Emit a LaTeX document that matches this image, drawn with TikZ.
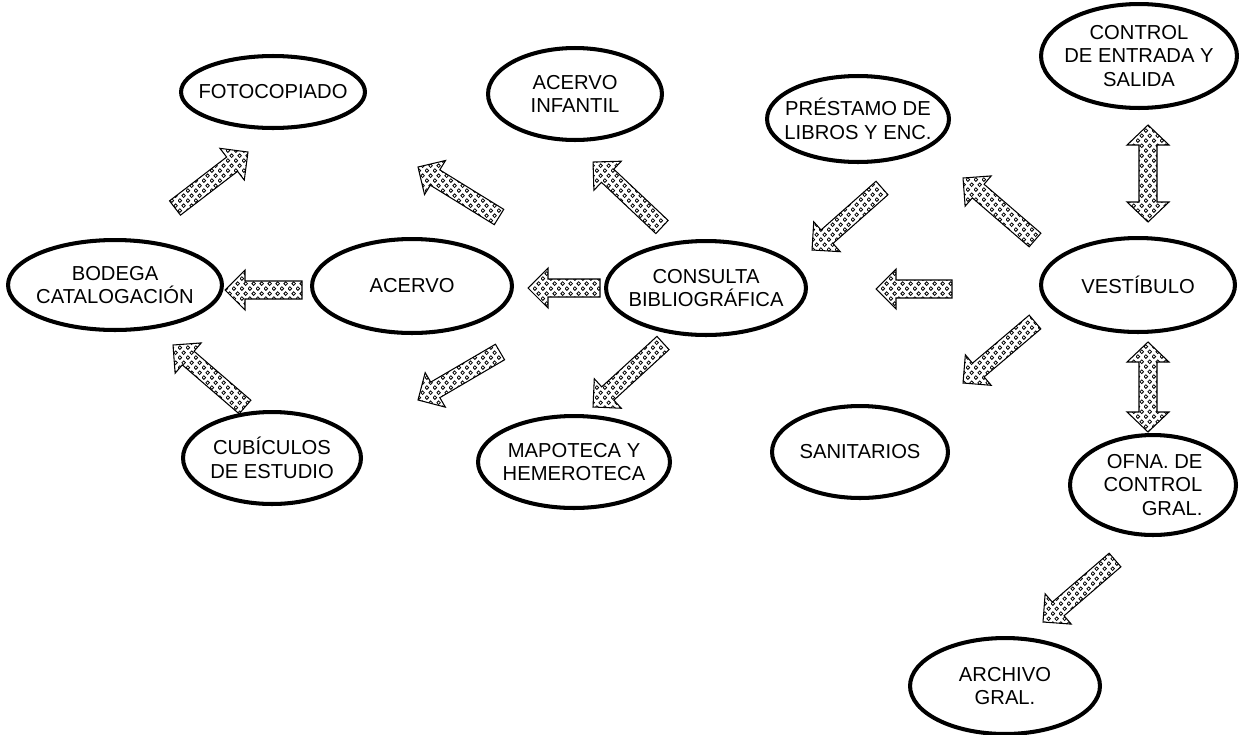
\documentclass[tikz,border=0pt]{standalone}
\usepackage{fontspec}
\setmainfont{Liberation Sans}
\usetikzlibrary{shapes.geometric,patterns}

% relleno de anillos para las flechas
\pgfdeclarepatternformonly{anillos}{\pgfpointorigin}{\pgfpoint{4.4pt}{5.6pt}}{\pgfpoint{4.4pt}{5.6pt}}{%
  \pgfsetlinewidth{0.45pt}%
  \pgfpathcircle{\pgfpoint{1.1pt}{1.4pt}}{1.05pt}%
  \pgfpathcircle{\pgfpoint{3.3pt}{4.2pt}}{1.05pt}%
  \pgfusepath{stroke}}

\tikzset{
  elipse/.style={ellipse, draw, line width=2.3pt, inner xsep=-2cm, inner ysep=-1cm, align=center,
    font=\fontsize{11.5}{13.5}\selectfont},
  tam/.style 2 args={minimum width=#1*0.04cm, minimum height=#2*0.04cm},
  flecha/.style={draw, line width=0.6pt, pattern=anillos}
}

\begin{document}
\begin{tikzpicture}[x=0.02cm, y=-0.02cm]
		\useasboundingbox (0,0) rectangle (1239,734);
		% fila superior
		\node[elipse, tam={92}{36}] (fotocopiado) at (273,92) {FOTOCOPIADO};
		\node[elipse, tam={87}{46}] (infantil) at (575,94) {ACERVO\\INFANTIL};
		\node[elipse, tam={91}{43}] (prestamo) at (858,119) {PRÉSTAMO DE\\LIBROS Y ENC.};
		\node[elipse, tam={98}{52}] (control) at (1139,56) {CONTROL\\DE ENTRADA Y\\SALIDA};
		% fila central
		\node[elipse, tam={107}{45}] (bodega) at (115,285) {BODEGA\\CATALOGACIÓN};
		\node[elipse, tam={100}{47}] (acervo) at (412,286) {ACERVO};
		\node[elipse, tam={100}{47}] (consulta) at (706,288) {CONSULTA\\BIBLIOGRÁFICA};
		\node[elipse, tam={97}{47}] (vestibulo) at (1138,285) {VESTÍBULO};
		% fila inferior
		\node[elipse, tam={89}{46}] (cubiculos) at (272,458) {CUBÍCULOS\\DE ESTUDIO};
		\node[elipse, tam={96}{46}] (mapoteca) at (574,462) {MAPOTECA Y\\HEMEROTECA};
		\node[elipse, tam={88}{46}] (sanitarios) at (860,452) {SANITARIOS};
		\node[elipse, tam={83}{50}, align=right] (oficina) at (1153,485) {OFNA. DE\\CONTROL\\GRAL.};
		\node[elipse, tam={95}{48}] (archivo) at (1005,686) {ARCHIVO\\GRAL.};
		% flechas simples: cola -> punta
		\foreach \xa/\ya/\xb/\yb in {175/208/248/152, 499/217/418/167, 662/227/593/162,
			882/188/812/250, 1035/240/963/178, 302/290/225/290, 600/288/528/288,
			952/289/876/289, 500/352/418/400, 663/343/593/407, 1035/322/963/383,
			245/407/173/345, 1115/560/1043/622}{
			\pgfmathsetmacro\ang{atan2(\ya-\yb,\xb-\xa)}
			\pgfmathsetmacro\lon{veclen(\xb-\xa,\yb-\ya)}
			\draw[flecha, shift={(\xa,\ya)}, rotate=\ang] (0,-9) -- (\lon-20,-9) -- (\lon-20,-20)
				-- (\lon,0) -- (\lon-20,20) -- (\lon-20,9) -- (0,9) -- cycle;
		}
		% flechas dobles del vestibulo
		\foreach \x/\ya/\yb in {1148/125/222, 1148/342/432}
			\draw[flecha] (\x,\ya) -- (\x+21,\ya+20) -- (\x+9,\ya+20) -- (\x+9,\yb-20) -- (\x+21,\yb-20)
				-- (\x,\yb) -- (\x-21,\yb-20) -- (\x-9,\yb-20) -- (\x-9,\ya+20) -- (\x-21,\ya+20) -- cycle;
	\end{tikzpicture}
\end{document}
